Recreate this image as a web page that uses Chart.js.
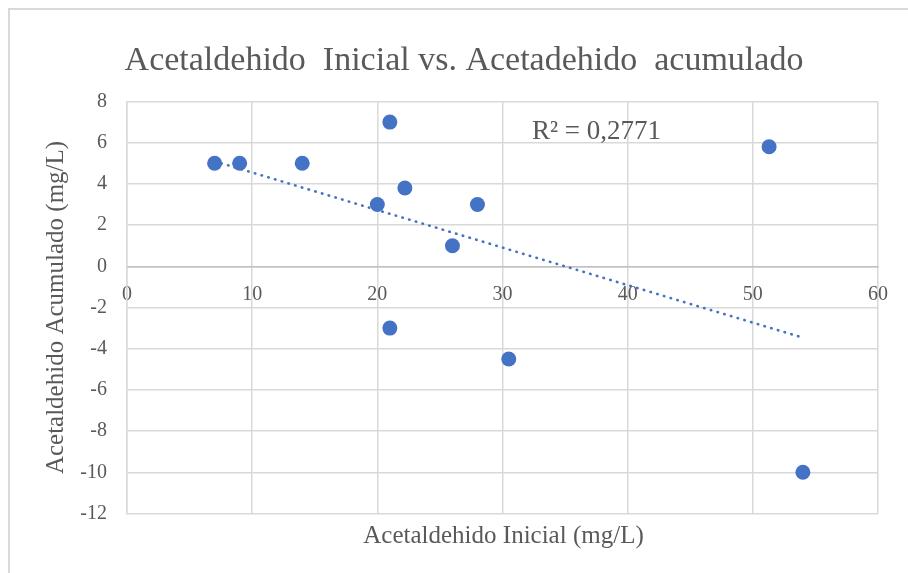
<!DOCTYPE html>
<html>
<head>
<meta charset="utf-8">
<script src="https://cdn.jsdelivr.net/npm/chart.js@4/dist/chart.umd.min.js"></script>
<style>
  html, body { margin: 0; padding: 0; background: #ffffff; }
  #frame { position: absolute; left: 8px; top: 8px; width: 920px; height: 600px; border: 2px solid #d9d9d9; box-sizing: border-box; }
  #wrap { position: absolute; left: 0; top: 0; width: 908px; height: 573px; }
</style>
</head>
<body>
<div id="frame"></div>
<div id="wrap"><canvas id="c" width="908" height="573"></canvas></div>
<script>
// ---- data ----
const xInicial   = [7, 9, 14, 20, 21, 22.2, 26, 28, 51.3, 21, 30.5, 54];
const yAcumulado = [5, 5, 5, 3, 7, 3.8, 1, 3, 5.8, -3, -4.5, -10];
const xTickRange = [0, 60, 10];   // min, max, step
const yTickRange = [-12, 8, 2];   // min, max, step
const chartTitle = 'Acetaldehido  Inicial vs. Acetadehido  acumulado';
const xTitle = 'Acetaldehido Inicial (mg/L)';
const yTitle = 'Acetaldehido Acumulado (mg/L)';
const r2Label = 'R² = 0,2771';

// ---- linear trendline computed from the data ----
const n = xInicial.length;
const mx = xInicial.reduce((a, b) => a + b, 0) / n;
const my = yAcumulado.reduce((a, b) => a + b, 0) / n;
let sxy = 0, sxx = 0;
for (let i = 0; i < n; i++) { sxy += (xInicial[i] - mx) * (yAcumulado[i] - my); sxx += (xInicial[i] - mx) ** 2; }
const slope = sxy / sxx, intercept = my - slope * mx;
const xMin = Math.min(...xInicial), xMax = Math.max(...xInicial);
const trend = [{ x: xMin, y: intercept + slope * xMin }, { x: xMax, y: intercept + slope * xMax }];

const points = xInicial.map((x, i) => ({ x, y: yAcumulado[i] }));

const TXT = '#595959';
const GRID = '#d9d9d9';
const FONT = '"Liberation Serif", "Times New Roman", serif';

const textPlugin = {
  id: 'texts',
  afterDraw(chart) {
    const ctx = chart.ctx;
    const a = chart.chartArea;
    ctx.save();
    ctx.fillStyle = TXT;
    ctx.textBaseline = 'alphabetic';
    ctx.textAlign = 'center';
    ctx.font = '34px ' + FONT;
    ctx.fillText(chartTitle, 464, 69.5);
    ctx.font = '25px ' + FONT;
    ctx.fillText(xTitle, (a.left + a.right) / 2 + 1, 542.5);
    ctx.textAlign = 'left';
    ctx.font = '27px ' + FONT;
    ctx.fillText(r2Label, 532, 139);
    ctx.restore();
  }
};

new Chart(document.getElementById('c'), {
  type: 'scatter',
  data: {
    datasets: [
      {
        label: 'Lineal',
        type: 'line',
        data: trend,
        borderColor: '#4472C4',
        borderWidth: 2.6,
        borderDash: [0.5, 6.5],
        borderCapStyle: 'round',
        pointRadius: 0,
        fill: false,
        order: 2
      },
      {
        label: 'Acetaldehido',
        data: points,
        backgroundColor: '#4472C4',
        pointBackgroundColor: '#4472C4',
        pointBorderWidth: 0,
        pointRadius: 7.5,
        pointHoverRadius: 7.5,
        order: 1
      }
    ]
  },
  options: {
    responsive: false,
    animation: false,
    devicePixelRatio: 1,
    layout: { padding: { left: 0, right: 30, top: 101.5, bottom: 59.5 } },
    plugins: { legend: { display: false }, title: { display: false }, tooltip: { enabled: false } },
    scales: {
      x: {
        type: 'linear',
        position: { y: 0 },
        min: xTickRange[0], max: xTickRange[1],
        ticks: { stepSize: xTickRange[2], color: TXT, font: { family: FONT, size: 20 }, padding: 16, maxRotation: 0 },
        grid: { color: GRID, lineWidth: 1.5, drawTicks: false },
        border: { color: '#bfbfbf', width: 1.5 },
        afterFit(scale) { scale.height = 0; }
      },
      y: {
        type: 'linear',
        position: 'left',
        min: yTickRange[0], max: yTickRange[1],
        ticks: { stepSize: yTickRange[2], color: TXT, font: { family: FONT, size: 20 }, padding: 20 },
        grid: { color: GRID, lineWidth: 1.5, drawTicks: false },
        border: { color: GRID, width: 1.5 },
        title: { display: true, text: yTitle, color: TXT, font: { family: FONT, size: 25 }, padding: { top: 41, bottom: 0 } },
        afterFit(scale) { scale.width = 127; }
      }
    }
  },
  plugins: [textPlugin]
});
</script>
</body>
</html>
